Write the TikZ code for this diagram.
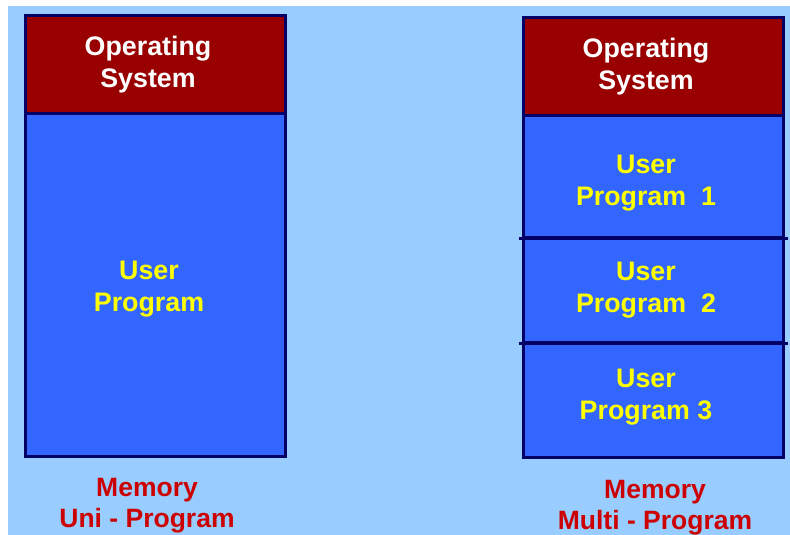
\documentclass[tikz,border=0pt]{standalone}
\usepackage{fontspec}
\setmainfont{Liberation Sans}
\definecolor{bgblue}{HTML}{99CCFF}
\definecolor{osred}{HTML}{990000}
\definecolor{userblue}{HTML}{3366FF}
\definecolor{navy}{HTML}{000066}
\definecolor{txtyellow}{HTML}{FFFF00}
\definecolor{lblred}{HTML}{CC0000}
\begin{document}
\begin{tikzpicture}[x=1pt,y=-1pt,
  seg/.style={draw=navy, line width=3pt, inner sep=0pt, minimum width=260pt},
  ossty/.style={seg, fill=osred},
  usersty/.style={seg, fill=userblue},
  ostext/.style={text=white, font=\bfseries\fontsize{26.8}{32}\selectfont, align=center},
  usertext/.style={text=txtyellow, font=\bfseries\fontsize{26.8}{32}\selectfont, align=center},
  lbltext/.style={text=lblred, font=\bfseries\fontsize{26.5}{31}\selectfont, align=center},
  divider/.style={draw=navy, line width=3pt}]
\useasboundingbox (0,0) rectangle (790,535);
\fill[white] (0,0) rectangle (790,535);
\fill[bgblue] (8,6) rectangle (790,535);
% left column
\node[usersty, minimum height=343pt] (u0) at (155,284.5) {};
\node[ossty, minimum height=97pt] (os0) at (155,64.5) {};
\node[ostext] (os0t) at (148,65) {Operating\\System};
\node[usertext] (u0t) at (149,289) {User\\Program};
\node[lbltext] (l0) at (147,506) {Memory\\Uni - Program};
% right column
\node[usersty, minimum height=122pt] (u1) at (653,176) {};
\node[usersty, minimum height=105pt] (u2) at (653,289.5) {};
\node[usersty, minimum height=115pt] (u3) at (653,399.5) {};
\node[ossty, minimum height=97pt] (os1) at (653,66.5) {};
\draw[divider] ([xshift=-3pt]u1.south west) -- ([xshift=3pt]u1.south east);
\draw[divider] ([xshift=-3pt]u2.south west) -- ([xshift=3pt]u2.south east);
\node[ostext] (os1t) at (646,67) {Operating\\System};
\node[usertext] (u1t) at (646,183) {User\\Program~~1};
\node[usertext] (u2t) at (646,290) {User\\Program~~2};
\node[usertext] (u3t) at (646,397) {User\\Program 3};
\node[lbltext] (l1) at (655,507.5) {Memory\\Multi - Program};
\end{tikzpicture}
\end{document}
